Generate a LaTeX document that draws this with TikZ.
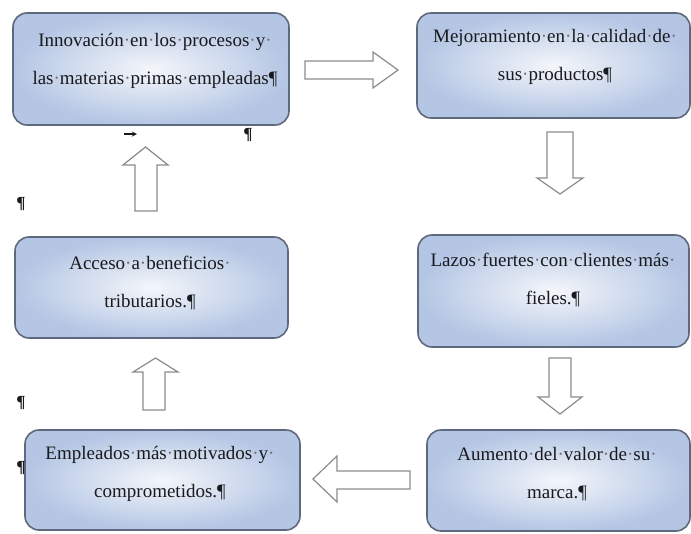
\documentclass[tikz,border=0pt]{standalone}
\usepackage{fontspec}
\setmainfont{Liberation Serif}
\usetikzlibrary{calc}

\definecolor{boxblue}{RGB}{180,198,228}
\definecolor{boxcore}{RGB}{244,246,250}
\definecolor{boxedge}{RGB}{95,105,125}
\definecolor{arrowedge}{RGB}{140,140,140}
\definecolor{inkgray}{RGB}{25,25,30}
\definecolor{dotgray}{RGB}{110,110,115}

% visible space mark, as a word processor shows it
\newcommand{\wsp}{\textcolor{dotgray}{·}}

\tikzset{
  stepbox/.style={rounded corners=14pt, draw=boxedge, line width=1.6pt,
    inner color=boxcore, outer color=boxblue},
  steptext/.style={text=inkgray, font=\fontsize{19}{38}\selectfont,
    align=center, inner sep=0pt},
  blockarrow/.style={draw=arrowedge, fill=white, line width=1.2pt, line join=miter},
  pmark/.style={text=inkgray, font=\fontsize{17}{17}\selectfont\bfseries, inner sep=0pt}
}

\begin{document}
\begin{tikzpicture}[x=1pt,y=-1pt]
\useasboundingbox (0,0) rectangle (691,533);

% boxes
\node[stepbox, minimum width=276pt, minimum height=112pt] (b1) at (151,69) {};
\node[stepbox, minimum width=273pt, minimum height=105pt] (b2) at (553.5,65.5) {};
\node[stepbox, minimum width=273pt, minimum height=101pt] (b3) at (151.5,287.5) {};
\node[stepbox, minimum width=271pt, minimum height=112pt] (b4) at (553.5,291) {};
\node[stepbox, minimum width=275pt, minimum height=100pt] (b5) at (162.5,480) {};
\node[stepbox, minimum width=263pt, minimum height=101pt] (b6) at (558.5,480.5) {};

% box texts, with space marks and pilcrows at paragraph ends
\node[steptext] (t1) at (155,61) {Innovación\wsp en\wsp los\wsp procesos\wsp y\wsp\\las\wsp materias\wsp primas\wsp empleadas¶};
\node[steptext] (t2) at (555,57) {Mejoramiento\wsp en\wsp la\wsp calidad\wsp de\wsp\\sus\wsp productos¶};
\node[steptext] (t3) at (150,283) {Acceso\wsp a\wsp beneficios\wsp\\tributarios.¶};
\node[steptext] (t4) at (553,280) {Lazos\wsp fuertes\wsp con\wsp clientes\wsp más\wsp\\fieles.¶};
\node[steptext] (t5) at (160,474) {Empleados\wsp más\wsp motivados\wsp y\wsp\\comprometidos.¶};
\node[steptext] (t6) at (557,474) {Aumento\wsp del\wsp valor\wsp de\wsp su\wsp\\marca.¶};

% block arrows
% b1 -> b2
\draw[blockarrow] (305,61) -- (373,61) -- (373,52) -- (398,70) -- (373,88) -- (373,79) -- (305,79) -- cycle;
% b2 -> b4
\draw[blockarrow] (547,132) -- (573,132) -- (573,178) -- (583,178) -- (560,194) -- (537,178) -- (547,178) -- cycle;
% b4 -> b6
\draw[blockarrow] (549,358) -- (571,358) -- (571,397) -- (582,397) -- (560,414) -- (538,397) -- (549,397) -- cycle;
% b6 -> b5
\draw[blockarrow] (410,471) -- (337,471) -- (337,456) -- (313,479) -- (337,502) -- (337,489) -- (410,489) -- cycle;
% b5 -> b3
\draw[blockarrow] (143,410) -- (143,372) -- (133,372) -- (155.5,358) -- (178,372) -- (165,372) -- (165,410) -- cycle;
% b3 -> b1
\draw[blockarrow] (135,211) -- (135,165) -- (123,165) -- (145.5,147) -- (168,165) -- (157,165) -- (157,211) -- cycle;

% stray formatting marks
\node[pmark] (p1) at (21,204) {¶};
\node[pmark] (p2) at (21,403) {¶};
\node[pmark] (p3) at (21,468) {¶};
\node[pmark] (p4) at (248,135) {¶};
% tab mark
\coordinate (tabA) at (124,134);
\coordinate (tabB) at (137,134);
\draw[inkgray, line width=1.3pt, -stealth] (tabA) -- (tabB);
\end{tikzpicture}
\end{document}
